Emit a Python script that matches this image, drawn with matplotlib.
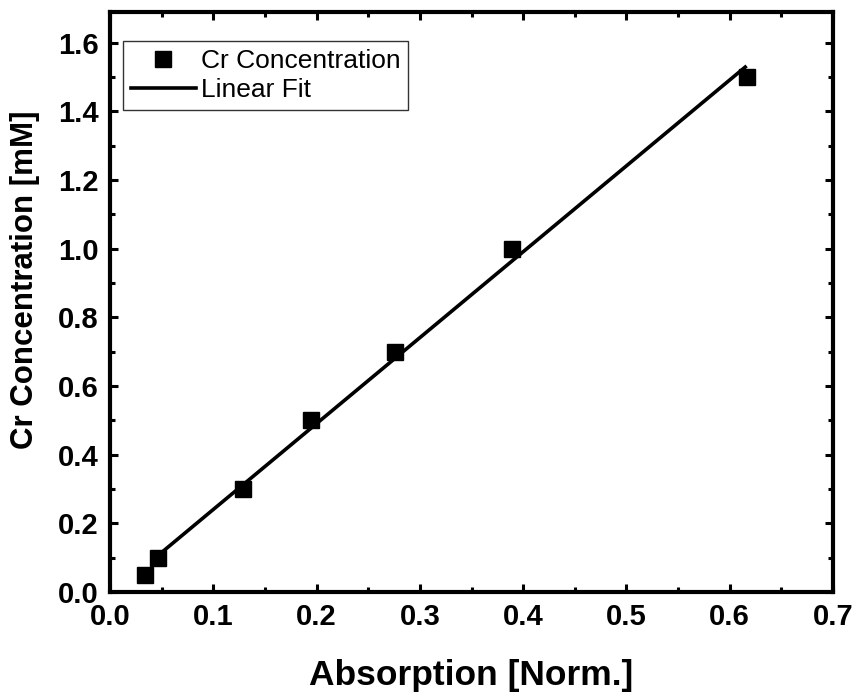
import numpy as np
import matplotlib
matplotlib.use('Agg')
import matplotlib.pyplot as plt
from matplotlib.ticker import MultipleLocator

plt.rcParams['font.family'] = ['Liberation Sans', 'DejaVu Sans']

absorption = [0.034, 0.046, 0.129, 0.195, 0.276, 0.389, 0.617]
concentration = [0.05, 0.1, 0.3, 0.5, 0.7, 1.0, 1.5]

slope, intercept = np.polyfit(absorption, concentration, 1)
fit_x = np.array([0.046, 0.615])
fit_y = slope * fit_x + intercept

fig = plt.figure(figsize=(8.57, 6.94), dpi=100)
ax = fig.add_axes([0.1284, 0.147, 0.8436, 0.836])

ax.plot(absorption, concentration, 's', color='black', markersize=12,
        label='Cr Concentration')
ax.plot(fit_x, fit_y, '-', color='black', linewidth=2.6, label='Linear Fit')

ax.set_xlim(0, 0.7)
ax.set_ylim(0, 1.69)
ax.xaxis.set_major_locator(MultipleLocator(0.1))
ax.xaxis.set_minor_locator(MultipleLocator(0.05))
ax.yaxis.set_major_locator(MultipleLocator(0.2))
ax.yaxis.set_minor_locator(MultipleLocator(0.1))
ax.xaxis.set_major_formatter(plt.FormatStrFormatter('%.1f'))
ax.yaxis.set_major_formatter(plt.FormatStrFormatter('%.1f'))

for s in ax.spines.values():
    s.set_linewidth(3)
ax.tick_params(which='both', direction='in', top=True, right=True)
ax.tick_params(which='major', length=6, width=2.2, labelsize=21, pad=8)
ax.tick_params(which='minor', length=3.5, width=2.2)
for lab in ax.get_xticklabels() + ax.get_yticklabels():
    lab.set_fontweight('bold')

ax.set_xlabel('Absorption [Norm.]', fontsize=25.5, fontweight='bold', labelpad=20)
ax.set_ylabel('Cr Concentration [mM]', fontsize=22.5, fontweight='bold')
ax.yaxis.set_label_coords(-0.097, 0.538)

leg = ax.legend(loc='upper left', bbox_to_anchor=(123 / 857, 1 - 41 / 694),
                bbox_transform=fig.transFigure, fontsize=19, frameon=True,
                fancybox=False, edgecolor='black', borderpad=0.3,
                handlelength=2.45, handletextpad=0.2, borderaxespad=0,
                labelspacing=0.2)
leg.get_frame().set_linewidth(1.0)

fig.savefig('out.png', dpi=100)
